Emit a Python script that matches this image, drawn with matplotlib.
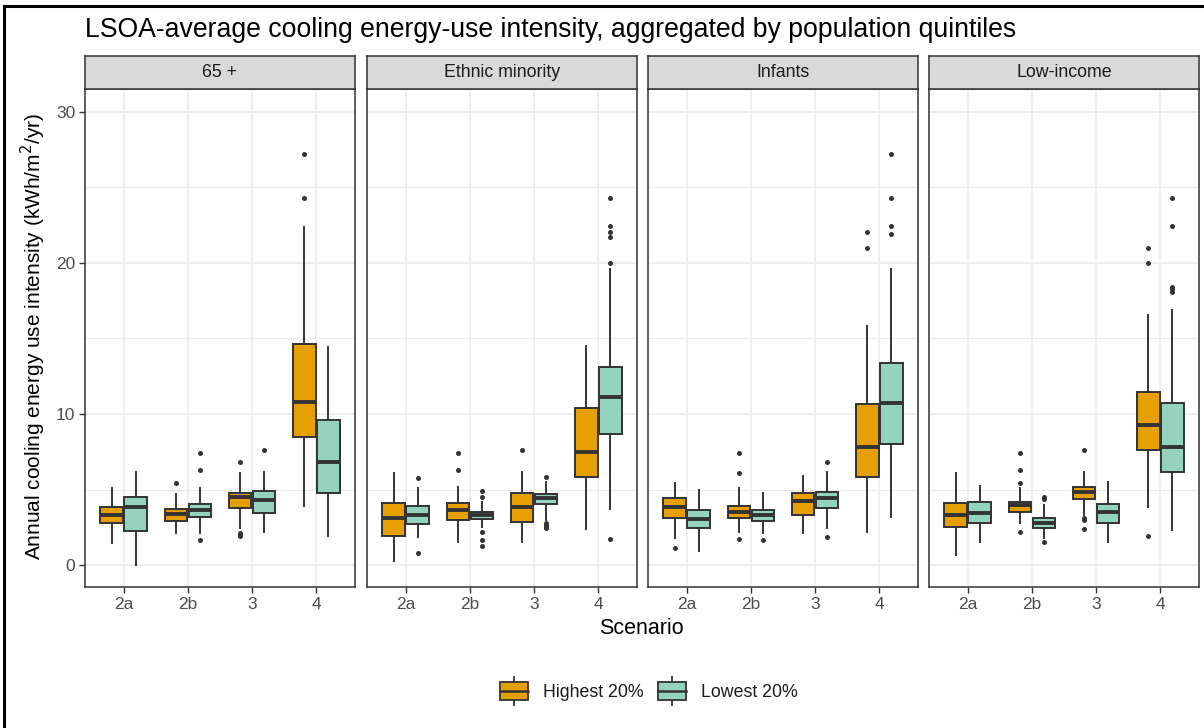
"""LSOA-average cooling energy-use intensity boxplots, faceted by population group."""

import matplotlib

matplotlib.use("Agg")
import matplotlib.pyplot as plt
from matplotlib.lines import Line2D
from matplotlib.patches import Rectangle

plt.rcParams["font.family"] = ["Liberation Sans", "DejaVu Sans"]

SCENARIOS = ["2a", "2b", "3", "4"]
GROUPS = ["Highest 20%", "Lowest 20%"]
FACETS = ["65 +", "Ethnic minority", "Infants", "Low-income"]

# box stats per scenario: [whisker low, q1, median, q3, whisker high]
OLD_HIGH = [[1.48, 2.80, 3.31, 3.86, 5.07], [2.10, 2.93, 3.35, 3.68, 4.70],
            [2.43, 3.75, 4.48, 4.79, 6.07], [3.93, 8.45, 10.77, 14.63, 22.39]]
OLD_HIGH_OUT = [[], [5.45], [6.79, 2.10, 2.00, 1.90], [27.2, 24.27]]
OLD_LOW = [[0.00, 2.27, 3.82, 4.48, 6.18], [2.10, 3.15, 3.64, 4.04, 5.07],
           [2.16, 3.42, 4.30, 4.90, 6.18], [1.94, 4.74, 6.79, 9.60, 14.45]]
OLD_LOW_OUT = [[], [7.39, 6.29, 1.65], [7.61], []]

ETH_HIGH = [[0.26, 1.94, 3.09, 4.13, 6.07], [1.54, 2.98, 3.64, 4.08, 5.14],
            [1.54, 2.87, 3.86, 4.74, 6.18], [2.38, 5.80, 7.46, 10.37, 14.52]]
ETH_HIGH_OUT = [[], [7.39, 6.29], [7.61], []]
ETH_LOW = [[1.88, 2.69, 3.31, 3.90, 5.07], [2.54, 3.02, 3.31, 3.53, 4.19],
           [2.98, 4.04, 4.41, 4.70, 5.52], [3.71, 8.67, 11.14, 13.08, 19.57]]
ETH_LOW_OUT = [[5.74, 0.77], [4.92, 4.52, 2.20, 1.65, 1.26],
               [5.85, 2.76, 2.65, 2.54, 2.43],
               [24.27, 22.46, 22.06, 21.69, 20.0, 1.74]]

INF_HIGH = [[1.76, 3.09, 3.86, 4.46, 5.40], [2.21, 3.09, 3.53, 3.93, 5.07],
            [2.10, 3.31, 4.24, 4.79, 5.89], [2.21, 5.85, 7.79, 10.66, 15.82]]
INF_HIGH_OUT = [[1.15], [7.39, 6.07, 1.72], [], [22.02, 21.0]]
INF_LOW = [[0.93, 2.43, 3.02, 3.64, 4.96], [2.10, 2.93, 3.31, 3.64, 4.74],
           [2.43, 3.75, 4.41, 4.81, 6.18], [3.15, 7.99, 10.70, 13.35, 19.57]]
INF_LOW_OUT = [[], [1.65], [6.79, 1.83], [27.2, 24.27, 22.46, 21.9]]

INC_HIGH = [[0.66, 2.54, 3.31, 4.08, 6.07], [2.76, 3.53, 3.97, 4.19, 5.07],
            [3.31, 4.35, 4.85, 5.18, 6.18], [3.82, 7.61, 9.27, 11.43, 16.55]]
INC_HIGH_OUT = [[], [7.39, 6.29, 5.40, 2.21], [7.61, 3.09, 2.98, 2.36],
                [21.0, 20.0, 1.92]]
INC_LOW = [[1.50, 2.80, 3.46, 4.19, 5.23], [1.76, 2.47, 2.80, 3.09, 3.97],
           [1.50, 2.80, 3.53, 4.04, 5.52], [2.32, 6.13, 7.83, 10.70, 16.88]]
INC_LOW_OUT = [[], [4.52, 4.35, 1.50], [],
               [24.27, 22.44, 18.42, 18.24, 18.04]]

PANELS = [
    (OLD_HIGH, OLD_HIGH_OUT, OLD_LOW, OLD_LOW_OUT),
    (ETH_HIGH, ETH_HIGH_OUT, ETH_LOW, ETH_LOW_OUT),
    (INF_HIGH, INF_HIGH_OUT, INF_LOW, INF_LOW_OUT),
    (INC_HIGH, INC_HIGH_OUT, INC_LOW, INC_LOW_OUT),
]

COLORS = ["#E69F00", "#94D3BD"]
INK = "#333333"
W, H = 1204, 728


def px(x0, y0, x1, y1):
    """Pixel box (top-left origin) to figure fraction rect."""
    return [x0 / W, 1 - y1 / H, (x1 - x0) / W, (y1 - y0) / H]


def to_stats(rows, outliers):
    return [
        {"whislo": r[0], "q1": r[1], "med": r[2], "q3": r[3], "whishi": r[4],
         "fliers": out}
        for r, out in zip(rows, outliers)
    ]


fig = plt.figure(figsize=(W / 100, H / 100), dpi=100)

lefts = [85, 367, 648, 929]
pw, top, bottom = 270, 89, 587

for k, (facet, data) in enumerate(zip(FACETS, PANELS)):
    x0 = lefts[k]
    ax = fig.add_axes(px(x0, top, x0 + pw, bottom))
    high, high_out, low, low_out = data
    base = list(range(1, len(SCENARIOS) + 1))
    for g, (rows, outs, off) in enumerate([(high, high_out, -0.1875),
                                            (low, low_out, 0.1875)]):
        ax.bxp(
            to_stats(rows, outs),
            positions=[b + off for b in base],
            widths=0.35,
            patch_artist=True,
            showcaps=False,
            boxprops=dict(facecolor=COLORS[g], edgecolor=INK, linewidth=1.4),
            medianprops=dict(color=INK, linewidth=2.8),
            whiskerprops=dict(color=INK, linewidth=1.4),
            flierprops=dict(marker="o", markersize=3.6, markerfacecolor=INK,
                            markeredgecolor="none"),
            manage_ticks=False,
            zorder=3,
        )
    ax.set_xlim(0.4, 4.6)
    ax.set_ylim(-1.45, 31.5)
    ax.set_xticks(base)
    ax.set_xticklabels(SCENARIOS)
    ax.set_yticks([0, 10, 20, 30])
    ax.set_yticks([5, 15, 25], minor=True)
    ax.grid(True, which="major", color="#EBEBEB", linewidth=1.2, zorder=0)
    ax.grid(True, which="minor", axis="y", color="#EBEBEB", linewidth=0.8,
            zorder=0)
    ax.set_axisbelow(True)
    ax.tick_params(which="major", length=4, width=1.0, color=INK,
                   labelcolor="#4D4D4D", labelsize=12.5, pad=3)
    ax.tick_params(which="minor", length=0)
    if k > 0:
        ax.tick_params(axis="y", length=0, labelleft=False)
    for s in ax.spines.values():
        s.set_color(INK)
        s.set_linewidth(1.1)

    strip = fig.add_axes(px(x0, 56, x0 + pw, top))
    strip.set_facecolor("#D9D9D9")
    strip.set_xticks([])
    strip.set_yticks([])
    for s in strip.spines.values():
        s.set_color(INK)
        s.set_linewidth(1.1)
    strip.text(0.5, 0.5, facet, ha="center", va="center", fontsize=12.8,
               color="#1A1A1A", transform=strip.transAxes)

fig.text(85 / W, 1 - 37 / H,
         "LSOA-average cooling energy-use intensity, aggregated by population quintiles",
         ha="left", va="baseline", fontsize=19.2, color="black")
fig.text((85 + 1198) / 2 / W, 1 - 629 / H, "Scenario", ha="center",
         va="center", fontsize=15.5)
fig.text(33 / W, 1 - 336 / H,
         "Annual cooling energy use intensity (kWh/m$^2$/yr)", rotation=90,
         ha="center", va="center", fontsize=15)

# legend: drawn as little box keys
lax = fig.add_axes(px(495, 672, 820, 710))
lax.set_xlim(495, 820)
lax.set_ylim(710, 672)
lax.axis("off")
for cx, color, label in [(514, COLORS[0], GROUPS[0]),
                         (672, COLORS[1], GROUPS[1])]:
    lax.add_line(Line2D([cx, cx], [677, 705], color=INK, linewidth=1.3))
    lax.add_patch(Rectangle((cx - 14, 682), 28, 18, facecolor=color,
                            edgecolor=INK, linewidth=1.3, zorder=2))
    lax.add_line(Line2D([cx - 14, cx + 14], [691, 691], color=INK,
                        linewidth=1.8, zorder=3))
    lax.text(cx + 29, 692, label, ha="left", va="center", fontsize=12.8,
             color="#1A1A1A")

# outer frame (top and left edges visible in the reference)
fig.add_artist(Line2D([4 / W, 1], [1 - 6 / H, 1 - 6 / H], color="black",
                      linewidth=2.2, transform=fig.transFigure))
fig.add_artist(Line2D([4 / W, 4 / W], [0, 1 - 6 / H], color="black",
                      linewidth=2.2, transform=fig.transFigure))

fig.savefig("out.png", dpi=100)
